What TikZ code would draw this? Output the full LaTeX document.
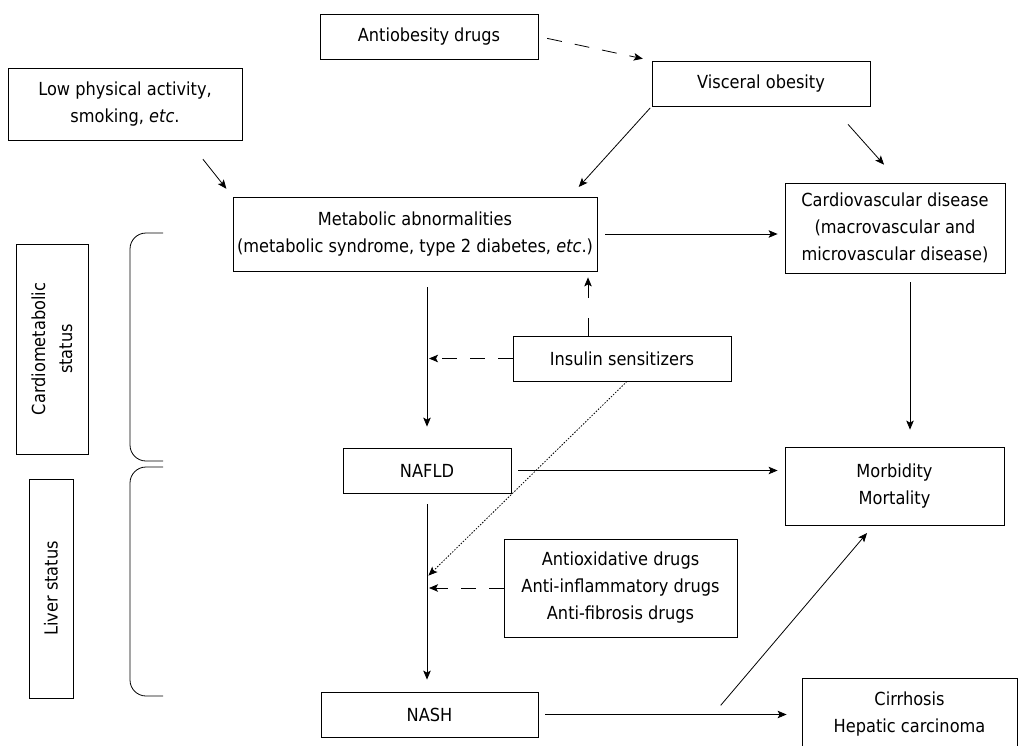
\documentclass[tikz,border=0pt]{standalone}
\usepackage{fontspec}
\setmainfont[FakeStretch=0.9]{DejaVu Sans}
\usetikzlibrary{arrows.meta, calc}
\tikzset{
>={Stealth[length=9pt,width=7.5pt,inset=2pt]},
every node/.append style={font=\fontsize{18}{27}\selectfont},
box/.style={draw, line width=0.8pt, align=center, inner sep=0pt},
arr/.style={->, line width=0.8pt},
dasharr/.style={->, line width=0.8pt, dash pattern=on 15pt off 13pt},
dotarr/.style={->, line width=0.8pt, dash pattern=on 1.5pt off 1.5pt},
brace/.style={line width=0.8pt, rounded corners=16pt},
}
\begin{document}
\begin{tikzpicture}[x=1pt, y=-1pt]
            \useasboundingbox (0,0) rectangle (1019,746);

            \node[box, minimum width=218pt, minimum height=45pt] (antiob) at (429,36.5) {Antiobesity drugs};
            \node[box, minimum width=218pt, minimum height=45pt] (visc) at (761,83.5) {Visceral obesity};
            \node[box, minimum width=234pt, minimum height=72pt] (lowpa) at (125,104) {Low physical activity,\\smoking, \textit{etc}.};
            \node[box, minimum width=364pt, minimum height=74pt] (metab) at (415,234) {Metabolic abnormalities\\(metabolic syndrome, type 2 diabetes, \textit{etc}.)};
            \node[box, minimum width=220pt, minimum height=90pt] (cvd) at (895,228) {Cardiovascular disease\\(macrovascular and\\microvascular disease)};
            \node[box, rotate=90, minimum width=210pt, minimum height=72pt] (cardst) at (52,349) {Cardiometabolic\\status};
            \node[box, rotate=90, minimum width=219pt, minimum height=44pt] (liverst) at (51,588.5) {Liver status};
            \node[box, minimum width=218pt, minimum height=45pt] (insul) at (622,358.5) {Insulin sensitizers};
            \node[box, minimum width=168pt, minimum height=45pt] (nafld) at (427,470.5) {NAFLD};
            \node[box, minimum width=233pt, minimum height=98pt] (antiox) at (620.5,588) {Antioxidative drugs\\Anti-inflammatory drugs\\Anti-fibrosis drugs};
            \node[box, minimum width=219pt, minimum height=78pt] (morb) at (894.5,486) {Morbidity\\Mortality};
            \node[box, minimum width=217pt, minimum height=45pt] (nash) at (429.5,714.5) {NASH};
            \node[box, minimum width=215pt, minimum height=72pt] (cirr) at (909.5,714) {Cirrhosis\\Hepatic carcinoma};

            % Brackets
            \draw[brace] (163,233) -- (130,233) -- (130,461) -- (163,461);
            \draw[brace] (163,467) -- (130,467) -- (130,696) -- (163,696);

            % Points on the vertical path
            \coordinate (j1) at (nafld.north |- insul.west);
            \coordinate (j3) at (nafld.south |- antiox.west);
            \coordinate (k) at ($(nash.east)!0.663!(nash.east -| cirr.west)$);

            % Transitions from the top
            \draw[dasharr] (antiob.east) -- (visc.north west) [shorten <=9pt, shorten >=9pt];
            \draw[arr, shorten <=24pt, shorten >=10pt] ([xshift=63pt]lowpa.south) -- (metab.north west);
            \draw[arr, shorten <=2pt, shorten >=13pt] (visc.south west) -- ([xshift=155pt]metab.north);
            \draw[arr, shorten <=24pt, shorten >=24pt] ([xshift=71pt]visc.south) -- ([xshift=5pt]cvd.north);

            % Transitions from metab and cvd
            \draw[arr, shorten <=8pt, shorten >=7pt] (metab.east) -- (metab.east -| cvd.west);
            \draw[arr, shorten <=9pt, shorten >=17pt] ([xshift=15pt]cvd.south) -- ([xshift=15pt]cvd.south |- morb.north);
            \draw[arr, shorten <=16pt, shorten >=21pt] (nafld.north |- metab.south) -- (nafld.north);

            % Transitions from insul
            \draw[->, line width=0.8pt, dash pattern=on 18pt off 20pt, shorten >=6pt] ([xshift=-34pt]insul.north) -- ([xshift=-34pt]insul.north |- metab.south);
            \draw[dasharr, shorten >=2pt] (insul.west) -- (j1);
            \draw[dotarr, shorten >=2pt] ([xshift=5pt]insul.south) -- ([yshift=11pt]j3);

            % Transitions from nafld and nash
            \draw[arr, shorten <=7pt, shorten >=7pt] (nafld.east) -- (nafld.east -| morb.west);
            \draw[arr, shorten <=11pt, shorten >=12pt] (nafld.south) -- (nafld.south |- nash.north);
            \draw[dasharr, shorten >=2pt] (antiox.west) -- (j3);
            \draw[arr, shorten <=7pt, shorten >=15pt] (nash.east) -- (nash.east -| cirr.west);
            \draw[arr, shorten <=12pt, shorten >=10pt] (k) -- ([xshift=-21pt]morb.south);
\end{tikzpicture}
\end{document}
